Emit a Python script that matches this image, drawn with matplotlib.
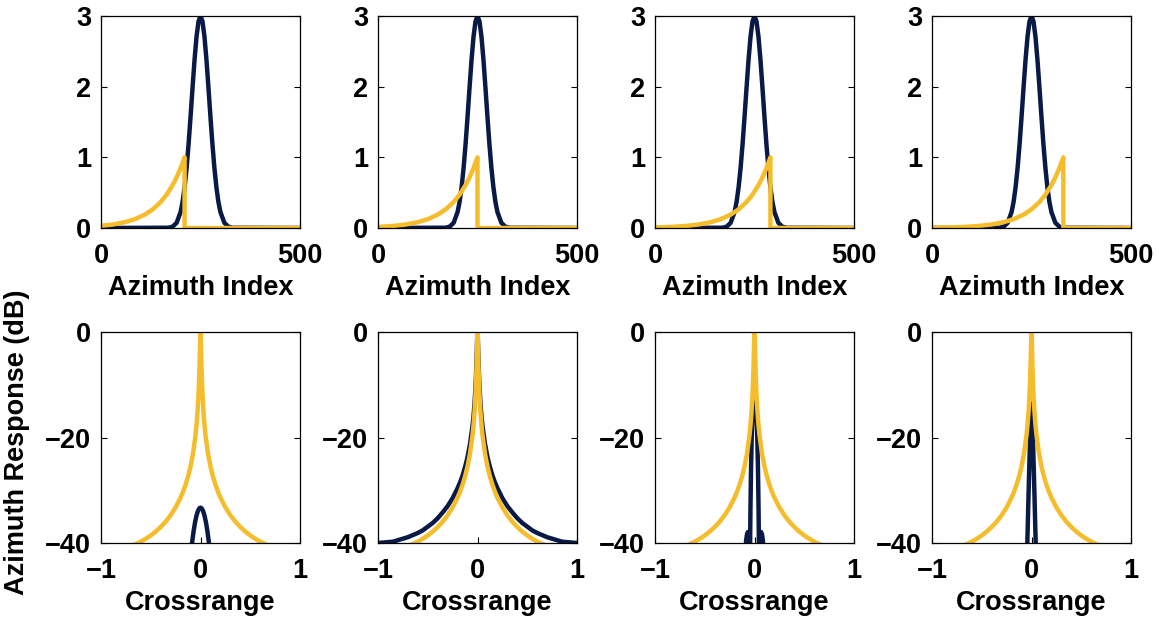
import numpy as np
import matplotlib.pyplot as plt

plt.rcParams['font.family'] = ['Liberation Sans', 'DejaVu Sans']
plt.rcParams['font.weight'] = 'bold'
plt.rcParams['axes.labelweight'] = 'bold'
plt.rcParams['font.size'] = 19.5

NAVY = '#0a1a47'
GOLD = '#f5bd2c'

# ---- top row: azimuth index domain ----
az_x = [0, 170, 180, 190, 200, 205, 210, 215, 220, 225, 230, 235, 240, 245, 250,
        255, 260, 265, 270, 275, 280, 285, 290, 295, 300, 310, 320, 330, 500]
az_target = [0, 0.004, 0.019, 0.073, 0.227, 0.370, 0.574, 0.846, 1.184, 1.573, 1.985,
             2.378, 2.706, 2.924, 3.0, 2.924, 2.706, 2.378, 1.985, 1.573, 1.184, 0.846,
             0.574, 0.370, 0.227, 0.073, 0.019, 0.004, 0]

# exponential window, sampled by distance before the cut point
win_dist = [0, 10, 20, 30, 45, 60, 80, 100, 125, 150, 180, 210, 250, 290, 330]
win_val = [1.0, 0.8465, 0.7165, 0.6065, 0.4724, 0.3679, 0.2636, 0.1889, 0.1245,
           0.0821, 0.0498, 0.0302, 0.0155, 0.0080, 0.0041]
win_cut = [210, 250, 290, 330]

# ---- bottom row: crossrange domain (dB) ----
cr_x = [-1.0, -0.85, -0.7, -0.65, -0.6, -0.55, -0.5, -0.45, -0.4, -0.35, -0.3, -0.25,
        -0.2, -0.175, -0.15, -0.125, -0.1, -0.075, -0.05, -0.04, -0.03, -0.02, -0.015,
        -0.01, -0.005, -0.0025, 0.0, 0.0025, 0.005, 0.01, 0.015, 0.02, 0.03, 0.04, 0.05,
        0.075, 0.1, 0.125, 0.15, 0.175, 0.2, 0.25, 0.3, 0.35, 0.4, 0.45, 0.5, 0.55, 0.6,
        0.65, 0.7, 0.85, 1.0]
cr_window = [-41.58, -41.34, -40.58, -40.20, -39.74, -39.20, -38.57, -37.83, -36.97,
             -35.95, -34.73, -33.24, -31.39, -30.26, -28.95, -27.40, -25.48, -23.01,
             -19.52, -17.62, -15.18, -11.82, -9.54, -6.58, -2.76, -0.87, 0.0,
             -0.87, -2.76, -6.58, -9.54, -11.82, -15.18, -17.62, -19.52, -23.01, -25.48,
             -27.40, -28.95, -30.26, -31.39, -33.24, -34.73, -35.95, -36.97, -37.83,
             -38.57, -39.20, -39.74, -40.20, -40.58, -41.34, -41.58]
cr_resp2 = [-40.0, -39.75, -38.9, -38.5, -38.1, -37.6, -36.9, -36.2, -35.3, -34.2, -33.0,
            -31.5, -29.6, -28.5, -27.2, -25.6, -23.7, -21.2, -17.8, -16.0, -13.6, -10.4,
            -8.2, -5.6, -2.3, -0.7, 0.0, -0.7, -2.3, -5.6, -8.2, -10.4, -13.6, -16.0,
            -17.8, -21.2, -23.7, -25.6, -27.2, -28.5, -29.6, -31.5, -33.0, -34.2, -35.3,
            -36.2, -36.9, -37.6, -38.1, -38.5, -38.9, -39.75, -40.0]

resp1_x = [-0.1, -0.085, -0.07, -0.055, -0.04, -0.025, -0.01, 0, 0.01, 0.025, 0.04,
           0.055, 0.07, 0.085, 0.1]
resp1_y = [-42.6, -40.0, -37.84, -36.10, -34.78, -33.88, -33.39, -33.3, -33.39, -33.88,
           -34.78, -36.10, -37.84, -40.0, -42.6]

resp3_x = [-0.095, -0.085, -0.075, -0.065, -0.055, -0.048, -0.045, -0.041, -0.035, -0.028,
           -0.02, -0.01, 0, 0.01, 0.02, 0.028, 0.035, 0.041, 0.045, 0.048, 0.055, 0.065,
           0.075, 0.085, 0.095]
resp3_y = [-43, -39.6, -38.3, -37.9, -38.3, -41, -42, -34, -26, -20, -15.5, -12.5, -11,
           -12.5, -15.5, -20, -26, -34, -42, -41, -38.3, -37.9, -38.3, -39.6, -43]

resp4_x = [-0.048, -0.042, -0.03, -0.02, -0.01, 0, 0.01, 0.02, 0.03, 0.042, 0.048]
resp4_y = [-45, -40, -31, -24, -17.5, -13.5, -17.5, -24, -31, -40, -45]

resp_x = [resp1_x, cr_x, resp3_x, resp4_x]
resp_y = [resp1_y, cr_resp2, resp3_y, resp4_y]

W, H = 1159, 617
fig = plt.figure(figsize=(W / 100, H / 100), dpi=100)
lefts = [101, 378, 655, 932]
aw = 199


def style(ax):
	ax.tick_params(direction='in', length=4, width=0.8, top=True, right=True)
	ax.tick_params(axis='x', pad=11)
	ax.tick_params(axis='y', pad=7)
	for sp in ax.spines.values():
		sp.set_linewidth(0.9)


for i in range(4):
	# top panel
	ax = fig.add_axes([lefts[i] / W, 1 - 228 / H, aw / W, 212 / H])
	ax.plot(az_x, az_target, color=NAVY, lw=3.2)
	cut = win_cut[i]
	wx = [cut - d for d in win_dist if d <= cut][::-1] + [cut, 500]
	wy = [v for d, v in zip(win_dist, win_val) if d <= cut][::-1] + [0, 0]
	ax.plot(wx, wy, color=GOLD, lw=3.2)
	ax.set_xlim(0, 500)
	ax.set_ylim(0, 3)
	ax.set_xticks([0, 500])
	ax.set_yticks([0, 1, 2, 3])
	ax.set_xlabel('Azimuth Index', labelpad=4)
	style(ax)

	# bottom panel
	ax = fig.add_axes([lefts[i] / W, 1 - 543 / H, aw / W, 211 / H])
	ax.plot(resp_x[i], resp_y[i], color=NAVY, lw=3.2)
	ax.plot(cr_x, cr_window, color=GOLD, lw=3.2)
	ax.set_xlim(-1, 1)
	ax.set_ylim(-40, 0)
	ax.set_xticks([-1, 0, 1])
	ax.set_yticks([-40, -20, 0])
	ax.set_xlabel('Crossrange', labelpad=4)
	style(ax)

fig.text(17 / W, 1 - 442 / H, 'Azimuth Response (dB)', rotation=90,
         ha='center', va='center', fontsize=19.5, fontweight='bold')

fig.savefig('out.png', dpi=100)
